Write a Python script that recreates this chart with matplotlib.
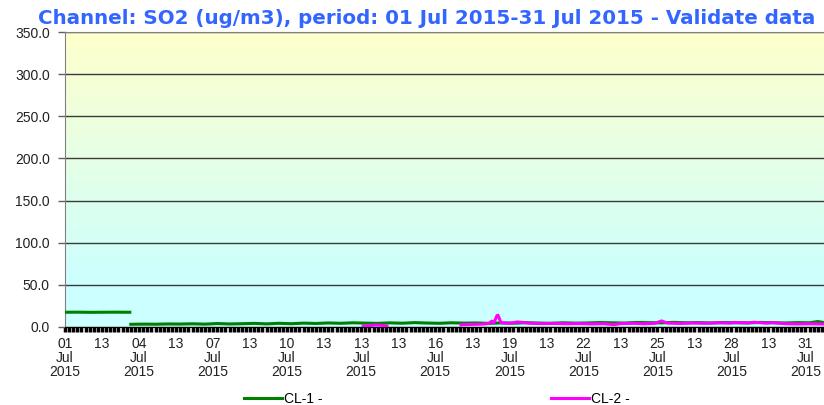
import numpy as np
import matplotlib
matplotlib.use("Agg")
import matplotlib.pyplot as plt
from matplotlib.colors import LinearSegmentedColormap
from matplotlib.ticker import MultipleLocator, FixedLocator, FixedFormatter

# hours since 01 Jul 2015 00:00
cl1_hours = [0, 12, 24, 36, 48, 60, 63, 63.5,
             64, 76, 88, 100, 112, 124, 136, 148, 160, 172, 184, 196, 208, 220, 232,
             244, 256, 268, 280, 292, 304, 316, 328, 340, 352, 364, 376, 388, 400,
             412, 424, 436, 448, 460, 472, 484, 496,
             508, 520, 532, 544, 556, 568, 580, 592, 604, 616, 628, 640, 652, 664,
             676, 688, 700, 712, 724, 732, 738]
cl1_vals = [17.5, 17.6, 17.4, 17.5, 17.6, 17.5, 17.5, np.nan,
            3.2, 3.4, 3.3, 3.6, 3.5, 3.8, 3.4, 4.1, 3.6, 3.9, 4.3, 3.7, 4.4, 3.9, 4.6,
            4.2, 4.8, 4.4, 5.0, 4.6, 4.3, 4.9, 4.5, 5.2, 4.7, 4.4, 5.0, 4.6, 4.8,
            4.3, 4.9, 4.5, 5.1, 4.7, 4.4, 5.0, 4.6,
            4.8, 5.3, 5.0, 4.7, 5.4, 5.1, 4.9, 5.5, 5.0, 5.2, 4.8, 5.3, 5.0, 4.9,
            5.4, 5.1, 4.8, 5.2, 5.0, 6.5, 5.2]

cl2_hours = [290, 296, 302, 308, 313, 314,
             385, 392, 400, 408, 412, 415, 417, 420, 421, 424, 432, 440, 452, 464,
             476, 488, 500, 512, 524, 534, 540, 552, 564, 574, 580, 586, 598, 610,
             622, 634, 646, 652, 664, 670, 682, 688, 700, 712, 724, 738]
cl2_vals = [1.2, 1.5, 2.4, 2.0, 1.1, np.nan,
            2.6, 3.0, 3.2, 3.6, 4.2, 7.0, 4.8, 13.5, 14.0, 5.0, 4.4, 6.0, 4.5, 4.0,
            4.3, 3.8, 4.1, 3.6, 3.9, 2.8, 4.0, 4.4, 3.8, 4.5, 7.2, 4.6, 4.2, 4.8,
            4.4, 5.0, 4.6, 5.4, 4.8, 5.6, 4.5, 5.2, 3.9, 3.6, 3.8, 3.5]

series_names = ["CL-1 -", "CL-2 -"]
series_colors = ["#008000", "#ff00ff"]

major_hours = list(range(0, 721, 36))
day_labels = ["01", "04", "07", "10", "13", "16", "19", "22", "25", "28", "31"]
y_ticks = [0, 50, 100, 150, 200, 250, 300, 350]

title = "Channel: SO2 (ug/m3), period: 01 Jul 2015-31 Jul 2015 - Validate data"

x_end = 738
plt.rcParams["font.family"] = ["Liberation Sans", "DejaVu Sans"]

fig = plt.figure(figsize=(8.24, 4.05), dpi=100)
ax = fig.add_axes([65 / 824, 1 - 327 / 405, 759 / 824, 295 / 405])

# background gradient cyan (bottom) -> pale yellow (top)
bg = LinearSegmentedColormap.from_list(
    "bg", [(0.0, "#ccffff"), (0.15, "#ccffff"), (1.0, "#ffffcc")])
grad = np.linspace(0, 1, 256).reshape(-1, 1)
ax.imshow(grad, cmap=bg, origin="lower", aspect="auto",
          extent=[0, x_end, 0, 350], zorder=0)

ax.plot(cl1_hours, cl1_vals, color=series_colors[0], lw=2.2, label=series_names[0], zorder=3)
ax.plot(cl2_hours, cl2_vals, color=series_colors[1], lw=2.2, label=series_names[1], zorder=4)

ax.set_xlim(0, x_end)
ax.set_ylim(0, 350)

ax.set_yticks(y_ticks)
ax.set_yticklabels(["%.1f" % v for v in y_ticks])
ax.yaxis.grid(True, color="#3a3a3a", lw=1)
ax.set_axisbelow(True)

labels = []
k = 0
for h in major_hours:
    if h % 72 == 0:
        labels.append(day_labels[k] + "\nJul\n2015")
        k += 1
    else:
        labels.append("13")
ax.xaxis.set_major_locator(FixedLocator(major_hours))
ax.xaxis.set_major_formatter(FixedFormatter(labels))
ax.xaxis.set_minor_locator(MultipleLocator(4))

ax.tick_params(axis="y", length=5, width=1, color="#606060", labelsize=10,
               labelcolor="#222222", pad=6)
ax.tick_params(axis="x", which="both", length=3.5, width=2.5, color="black",
               direction="out")
ax.tick_params(axis="x", which="major", labelsize=10, labelcolor="#222222", pad=4)
for t in ax.get_xticklabels():
    t.set_linespacing(1.0)

ax.spines["right"].set_visible(False)
ax.spines["top"].set_color("#808080")
ax.spines["left"].set_color("#808080")
ax.spines["bottom"].set_color("black")

fig.text(427 / 824, 1 - 23.5 / 405, title, ha="center", va="baseline",
         fontsize=14.3, fontweight="bold", color="#3366ff", family="DejaVu Sans")

fig.legend(loc="center", bbox_to_anchor=(437 / 824, 1 - 399 / 405), ncol=2,
           frameon=False, fontsize=10, handlelength=2.7, handletextpad=0.15,
           columnspacing=16.5, borderpad=0, borderaxespad=0)

fig.savefig("out.png", dpi=100)
